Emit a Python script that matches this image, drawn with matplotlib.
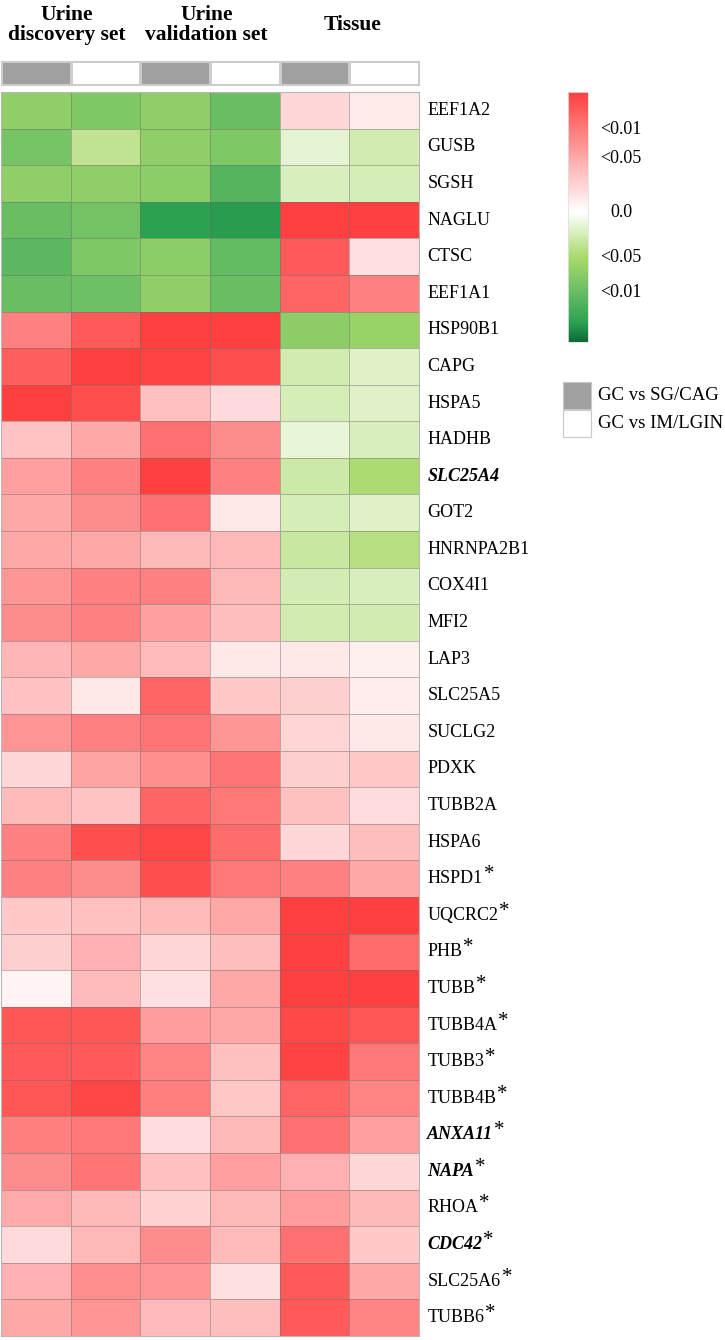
import numpy as np
import matplotlib
matplotlib.use("Agg")
import matplotlib.pyplot as plt
from matplotlib.colors import LinearSegmentedColormap, ListedColormap, Normalize
from matplotlib.cm import ScalarMappable
from matplotlib.patches import Rectangle
from matplotlib.transforms import blended_transform_factory, offset_copy

plt.rcParams['font.family'] = ['Liberation Serif', 'DejaVu Serif']

genes = ["EEF1A2", "GUSB", "SGSH", "NAGLU", "CTSC", "EEF1A1", "HSP90B1", "CAPG",
         "HSPA5", "HADHB", "SLC25A4", "GOT2", "HNRNPA2B1", "COX4I1", "MFI2", "LAP3",
         "SLC25A5", "SUCLG2", "PDXK", "TUBB2A", "HSPA6", "HSPD1", "UQCRC2", "PHB",
         "TUBB", "TUBB4A", "TUBB3", "TUBB4B", "ANXA11", "NAPA", "RHOA", "CDC42",
         "SLC25A6", "TUBB6"]
highlighted = ["SLC25A4", "ANXA11", "NAPA", "CDC42"]
starred = ["HSPD1", "UQCRC2", "PHB", "TUBB", "TUBB4A", "TUBB3", "TUBB4B", "ANXA11",
           "NAPA", "RHOA", "CDC42", "SLC25A6", "TUBB6"]

set_titles = ["Urine\ndiscovery set", "Urine\nvalidation set", "Tissue"]
comparisons = ["GC vs SG/CAG", "GC vs IM/LGIN"]
column_comparison = [0, 1, 0, 1, 0, 1]

# signed significance score: >0 up (red), <0 down (green)
disc_sg = [-0.48, -0.60, -0.48, -0.65, -0.71, -0.65, 0.66, 0.84, 1.0, 0.31, 0.5, 0.45,
           0.45, 0.55, 0.6, 0.38, 0.32, 0.56, 0.21, 0.36, 0.66, 0.66, 0.28, 0.26, 0.06,
           0.88, 0.86, 0.88, 0.67, 0.6, 0.44, 0.19, 0.41, 0.45]
disc_im = [-0.56, -0.28, -0.48, -0.61, -0.56, -0.64, 0.86, 1.0, 0.93, 0.45, 0.66, 0.6,
           0.45, 0.66, 0.66, 0.45, 0.12, 0.66, 0.48, 0.31, 0.92, 0.6, 0.33, 0.41, 0.35,
           0.88, 0.86, 0.96, 0.7, 0.72, 0.37, 0.37, 0.59, 0.56]
val_sg = [-0.48, -0.48, -0.51, -0.92, -0.51, -0.48, 1.0, 0.99, 0.33, 0.74, 1.0, 0.74,
          0.37, 0.66, 0.5, 0.35, 0.8, 0.72, 0.59, 0.8, 0.96, 0.92, 0.36, 0.21, 0.16,
          0.52, 0.64, 0.67, 0.18, 0.33, 0.23, 0.6, 0.56, 0.35]
val_im = [-0.65, -0.56, -0.74, -0.94, -0.68, -0.65, 1.0, 0.92, 0.19, 0.6, 0.66, 0.12,
          0.37, 0.37, 0.34, 0.12, 0.28, 0.55, 0.72, 0.7, 0.77, 0.7, 0.45, 0.34, 0.45,
          0.45, 0.33, 0.3, 0.37, 0.5, 0.37, 0.36, 0.16, 0.34]
tis_sg = [0.21, -0.12, -0.17, 1.0, 0.86, 0.8, -0.5, -0.2, -0.18, -0.1, -0.22, -0.18,
          -0.24, -0.19, -0.2, 0.12, 0.26, 0.22, 0.26, 0.33, 0.21, 0.66, 1.0, 1.0, 1.0,
          0.95, 0.98, 0.8, 0.74, 0.41, 0.52, 0.74, 0.86, 0.86]
tis_im = [0.11, -0.2, -0.18, 1.0, 0.17, 0.66, -0.44, -0.14, -0.14, -0.17, -0.36, -0.14,
          -0.32, -0.17, -0.2, 0.08, 0.09, 0.12, 0.29, 0.18, 0.34, 0.45, 1.0, 0.77, 1.0,
          0.88, 0.7, 0.64, 0.5, 0.21, 0.37, 0.28, 0.45, 0.64]

cbar_ticks = [0.684, 0.443, 0.0, -0.381, -0.672]
cbar_labels = ["<0.01", "<0.05", "0.0", "<0.05", "<0.01"]

vmin, vmax = -1.08, 1.0
W, H = 725, 1340


def box(x0, y0, x1, y1):
    # pixel box (top-left origin) -> figure fraction rect
    return [x0 / W, 1 - y1 / H, (x1 - x0) / W, (y1 - y0) / H]


def pos(v):
    return (v - vmin) / (vmax - vmin)


cmap = LinearSegmentedColormap.from_list("gr", [
    (pos(-1.08), "#0c6a38"), (pos(-0.93), "#2ba052"), (pos(-0.67), "#66bd63"),
    (pos(-0.38), "#a8d96a"), (pos(0.0), "#ffffff"), (pos(1.0), "#ff4040")])
norm = Normalize(vmin=vmin, vmax=vmax)

data = np.column_stack([disc_sg, disc_im, val_sg, val_im, tis_sg, tis_im])

fig = plt.figure(figsize=(W / 100, H / 100), dpi=100)

# main heatmap
ax = fig.add_axes(box(1, 92, 419, 1336))
ax.pcolormesh(data, cmap=cmap, norm=norm, edgecolors=(0.42, 0.42, 0.42, 0.45),
              linewidth=0.6)
ax.set_xlim(0, data.shape[1])
ax.set_ylim(data.shape[0], 0)
ax.set_xticks([])
ax.set_yticks([])
for s in ax.spines.values():
    s.set_edgecolor("#b8b8b8")
    s.set_linewidth(0.8)

renderer = fig.canvas.get_renderer()
tr = blended_transform_factory(ax.transAxes, ax.transData)
star_tr = offset_copy(tr, fig=fig, y=4, units="dots")
for i, g in enumerate(genes):
    kw = dict(fontweight="bold", fontstyle="italic") if g in highlighted else {}
    t = ax.text(1.02, i + 0.5, g, transform=tr, va="center", ha="left", fontsize=13, **kw)
    if g in starred:
        bb = t.get_window_extent(renderer=renderer)
        xs = ax.transAxes.inverted().transform((bb.x1 + 1, bb.y0))[0]
        ax.text(xs, i + 0.5, "*", transform=star_tr, va="center", ha="left", fontsize=15)

# comparison annotation strip
aax = fig.add_axes(box(1, 61, 419, 85))
aax.pcolormesh(np.array([column_comparison]), cmap=ListedColormap(["#a0a0a0", "#ffffff"]),
               vmin=0, vmax=1, edgecolors="#cccccc", linewidth=0.8)
aax.set_xlim(0, 6)
aax.set_xticks([])
aax.set_yticks([])
for s in aax.spines.values():
    s.set_edgecolor("#cccccc")
    s.set_linewidth(0.8)

ttr = blended_transform_factory(aax.transData, fig.transFigure)
for k, t in enumerate(set_titles):
    aax.text(2 * k + 1 - 0.05 if k < 2 else 2 * k + 1.05, 1 - 25 / H, t, transform=ttr,
             ha="center", va="center", fontsize=15.5, fontweight="bold", linespacing=1.05)

# colorbar
cax = fig.add_axes(box(568, 92, 588, 342))
cb = fig.colorbar(ScalarMappable(norm=norm, cmap=cmap), cax=cax)
cb.outline.set_edgecolor("#e0e0e0")
cb.outline.set_linewidth(0.6)
cax.set_yticks([])
ctr = blended_transform_factory(cax.transAxes, cax.transData)
for v, lab in zip(cbar_ticks, cbar_labels):
    cax.text(2.65, v, lab, transform=ctr, ha="center", va="center", fontsize=13)

# legend for comparisons
leg_colors = ["#a0a0a0", "#ffffff"]
for k, (lab, c) in enumerate(zip(comparisons, leg_colors)):
    y0 = 382 + k * 27.5
    fig.patches.append(Rectangle((563 / W, 1 - (y0 + 27.5) / H), 28 / W, 27.5 / H,
                                 transform=fig.transFigure, facecolor=c,
                                 edgecolor="#c8c8c8", linewidth=0.8))
    fig.text(598 / W, 1 - (y0 + 13.5) / H, lab, ha="left", va="center", fontsize=13.5)

fig.savefig("out.png", dpi=100)
